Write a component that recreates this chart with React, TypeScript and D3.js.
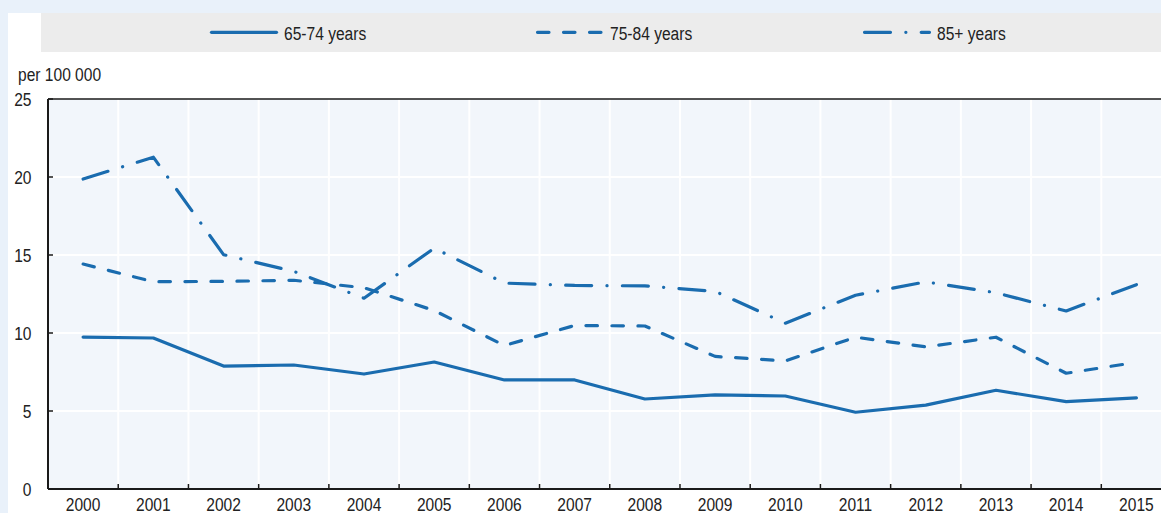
import React, { useEffect } from "react";
import * as d3 from "d3";

const years = [2000, 2001, 2002, 2003, 2004, 2005, 2006, 2007, 2008, 2009, 2010, 2011, 2012, 2013, 2014, 2015];
const age6574 = [9.74, 9.68, 7.88, 7.95, 7.37, 8.14, 6.99, 6.99, 5.77, 6.03, 5.96, 4.92, 5.38, 6.33, 5.6, 5.84];
const age7584 = [14.42, 13.29, 13.31, 13.38, 12.9, 11.44, 9.2, 10.48, 10.45, 8.5, 8.21, 9.73, 9.11, 9.73, 7.42, 8.12];
const age85 = [19.87, 21.27, 15.02, 13.95, 12.23, 15.44, 13.2, 13.05, 13.02, 12.67, 10.63, 12.42, 13.28, 12.58, 11.41, 13.1];
const yTicks = [0, 5, 10, 15, 20, 25];
const seriesNames = ["65-74 years", "75-84 years", "85+ years"];
const unitLabel = "per 100 000";

const W = 1161;
const H = 513;
const FONT = "'Liberation Sans', Arial, sans-serif";
const BLUE = "#1a6caf";
const dashes = ["none", "11.5 14.5", "26 15.3 0.1 15.3"];
const SX = 0.82;

function NText(props: { x: number; y: number; anchor?: string; children: React.ReactNode; dy?: string }) {
  return (
    <text
      transform={`translate(${props.x},${props.y}) scale(${SX},1)`}
      dy={props.dy}
      textAnchor={props.anchor || "start"}
      fontSize={19}
      fill="#222"
    >
      {props.children}
    </text>
  );
}

export default function App() {
  useEffect(() => {
    document.body.style.margin = "0";
  }, []);

  const left = 48;
  const top = 99;
  const bottom = 489;
  const right = left + 16 * 70.22;
  const x = d3.scaleBand<number>().domain(years).range([left, right]).padding(0);
  const y = d3.scaleLinear().domain([0, 25]).range([bottom, top]);
  const cx = (yr: number) => (x(yr) as number) + x.bandwidth() / 2;

  const line = d3
    .line<number>()
    .x((_, i) => cx(years[i]))
    .y((v) => y(v));

  const data = [age6574, age7584, age85];
  const legendX = [210, 536, 863];

  return (
    <div style={{ position: "absolute", left: 0, top: 0, width: W, height: H, overflow: "hidden" }}>
      <svg width={W} height={H} style={{ display: "block", fontFamily: FONT }}>
        <rect x={0} y={0} width={W} height={H} fill="#e9f1fa" />
        <rect x={8} y={13} width={W - 8} height={H - 13} fill="#ffffff" />
        {/* legend */}
        <rect x={41} y={13} width={W - 41} height={39} fill="#ececec" />
        {seriesNames.map((name, i) => (
          <g key={name}>
            <line
              x1={legendX[i] + 1.5}
              x2={legendX[i] + 66.5}
              y1={32.3}
              y2={32.3}
              stroke={BLUE}
              strokeWidth={3.2}
              strokeLinecap="round"
              strokeDasharray={dashes[i]}
            />
            <NText x={legendX[i] + 74} y={39.5}>
              {name}
            </NText>
          </g>
        ))}
        {/* plot bg */}
        <rect x={left} y={top} width={right - left} height={bottom - top} fill="#f2f6fb" />
        {/* grid */}
        {yTicks.slice(1, -1).map((t) => (
          <line key={"gy" + t} x1={left} x2={right} y1={y(t)} y2={y(t)} stroke="#ffffff" strokeWidth={2} />
        ))}
        {years.slice(1).map((yr) => (
          <line key={"gx" + yr} x1={x(yr)} x2={x(yr)} y1={top} y2={bottom} stroke="#ffffff" strokeWidth={2} />
        ))}
        {/* axes */}
        <line x1={left} x2={right} y1={top} y2={top} stroke="#1a1a1a" strokeWidth={1.6} />
        <line x1={left} x2={right} y1={bottom} y2={bottom} stroke="#1a1a1a" strokeWidth={2} />
        <line x1={left} x2={left} y1={top} y2={bottom} stroke="#1a1a1a" strokeWidth={2} />
        {yTicks.map((t) => (
          <g key={"yt" + t}>
            <line x1={left} x2={left + 5} y1={y(t)} y2={y(t)} stroke="#1a1a1a" strokeWidth={1.5} />
            <NText x={31.5} y={y(t)} dy="0.36em" anchor="end">
              {t}
            </NText>
          </g>
        ))}
        {years.slice(1).map((yr) => (
          <line key={"xt" + yr} x1={x(yr)} x2={x(yr)} y1={bottom} y2={bottom - 5} stroke="#1a1a1a" strokeWidth={1.5} />
        ))}
        {years.map((yr) => (
          <NText key={"xl" + yr} x={cx(yr)} y={511.3} anchor="middle">
            {yr}
          </NText>
        ))}
        <NText x={18} y={81}>
          {unitLabel}
        </NText>
        {/* series */}
        {data.map((d, i) => (
          <path
            key={"s" + i}
            d={line(d) as string}
            fill="none"
            stroke={BLUE}
            strokeWidth={3.2}
            strokeLinecap="round"
            strokeLinejoin="round"
            strokeDasharray={dashes[i]}
          />
        ))}
      </svg>
    </div>
  );
}
